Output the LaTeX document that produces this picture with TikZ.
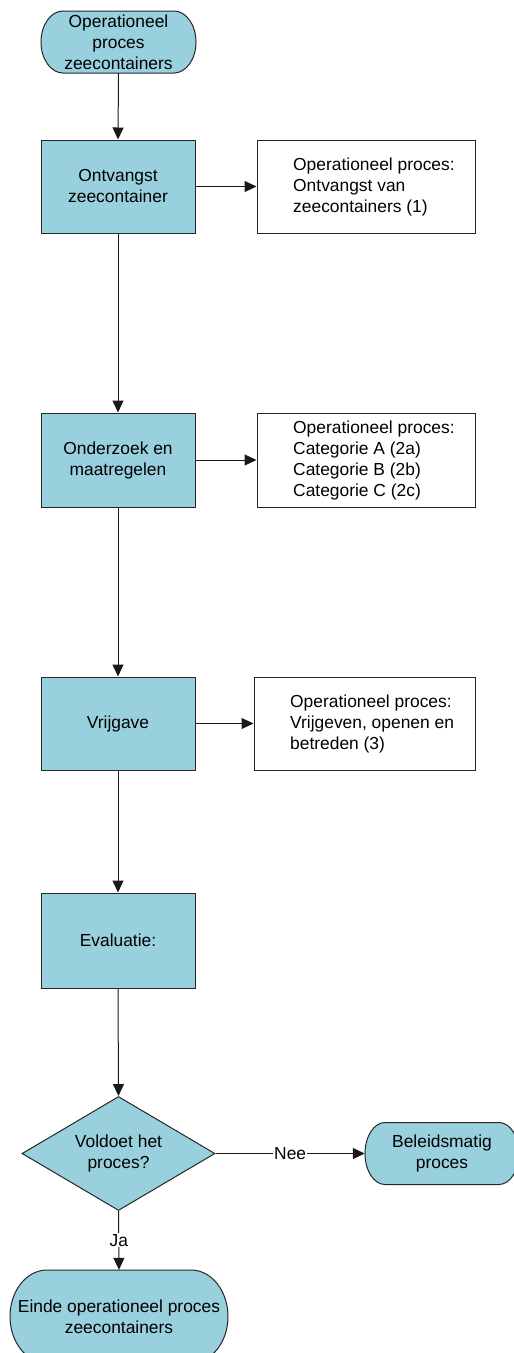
\documentclass[tikz,border=0pt]{standalone}
\usepackage{fontspec}
\setmainfont{Liberation Sans}
\usetikzlibrary{shapes.geometric,arrows.meta}
\definecolor{flowblue}{RGB}{153,208,221}
\newcommand{\termpath}[5]{%
  \filldraw[termline] ({#1-#3/2+#5},{#2+#4/2}) -- ({#1+#3/2-#5},{#2+#4/2})
    arc[start angle=90,end angle=-90,x radius=#5,y radius=#4/2]
    -- ({#1-#3/2+#5},{#2-#4/2})
    arc[start angle=270,end angle=90,x radius=#5,y radius=#4/2] -- cycle;}
\tikzset{
  txt/.style={font=\fontsize{17.4}{21}\selectfont},
  termline/.style={draw=black!85,fill=flowblue,line width=1pt},
  termnode/.style={txt,align=center,inner sep=0pt,minimum width=#1},
  procbox/.style={txt,draw=black!85,fill=flowblue,line width=1pt,align=center,minimum width=154pt,minimum height=93pt,inner sep=0pt},
  infobox/.style={draw=black!85,fill=white,line width=1pt,minimum width=218pt,minimum height=93pt,inner sep=0pt},
  infotext/.style={txt,align=left,anchor=west,inner sep=0pt},
  decision/.style={txt,diamond,draw=black!85,fill=flowblue,line width=1pt,align=center,minimum width=193pt,minimum height=114pt,inner sep=0pt,aspect=1.69},
  conn/.style={line width=1pt,draw=black!90,-{Triangle[length=12pt,width=11pt]}},
  edgelabel/.style={txt,fill=white,inner sep=1pt}
}
\begin{document}
\begin{tikzpicture}[x=1pt,y=1pt]
\useasboundingbox (0,0) rectangle (514,-1353);
% start terminal
\termpath{118.5}{-42}{155}{62}{22}
\node[termnode=155pt,minimum height=62pt] (start) at (118.5,-42) {Operationeel\\proces\\zeecontainers};
% process boxes
\node[procbox] (b1) at (118,-186.5) {Ontvangst\\zeecontainer};
\node[infobox] (i1) at (366,-186.5) {};
\node[infotext] (t1) at (293,-186.5) {Operationeel proces:\\Ontvangst van\\zeecontainers (1)};
\node[procbox,minimum height=94pt] (b2) at (118,-460) {Onderzoek en\\maatregelen};
\node[infobox,minimum height=94pt] (i2) at (366,-460) {};
\node[infotext] (t2) at (293,-460) {Operationeel proces:\\Categorie A (2a)\\Categorie B (2b)\\Categorie C (2c)};
\node[procbox] (b3) at (118,-723.5) {Vrijgave};
\node[infobox,minimum width=221pt] (i3) at (364.5,-723.5) {};
\node[infotext] (t3) at (290,-723.5) {Operationeel proces:\\Vrijgeven, openen en\\betreden (3)};
\node[procbox,minimum height=95pt] (b4) at (118,-940.5) {Evaluatie:};
% decision
\node[decision] (d) at (118.5,-1153.5) {Voldoet het\\proces?};
% policy terminal
\termpath{442}{-1153.5}{154}{62}{20}
\node[termnode=154pt,minimum height=62pt] (pol) at (442,-1153.5) {Beleidsmatig\\proces};
% end terminal
\termpath{119}{-1316.5}{218}{93}{37}
\node[termnode=218pt,minimum height=93pt] (end) at (119,-1316.5) {Einde operationeel proces\\zeecontainers};
% connectors
\draw[conn] (start.south) -- (b1.north);
\draw[conn] (b1.east) -- (i1.west);
\draw[conn] (b1.south) -- (b2.north);
\draw[conn] (b2.east) -- (i2.west);
\draw[conn] (b2.south) -- (b3.north);
\draw[conn] (b3.east) -- (i3.west);
\draw[conn] (b3.south) -- (b4.north);
\draw[conn] (b4.south) -- (d.north);
\draw[conn] (d.east) -- node[edgelabel] {Nee} (pol.west);
\draw[conn] (d.south) -- node[edgelabel] {Ja} (end.north);
\end{tikzpicture}
\end{document}
